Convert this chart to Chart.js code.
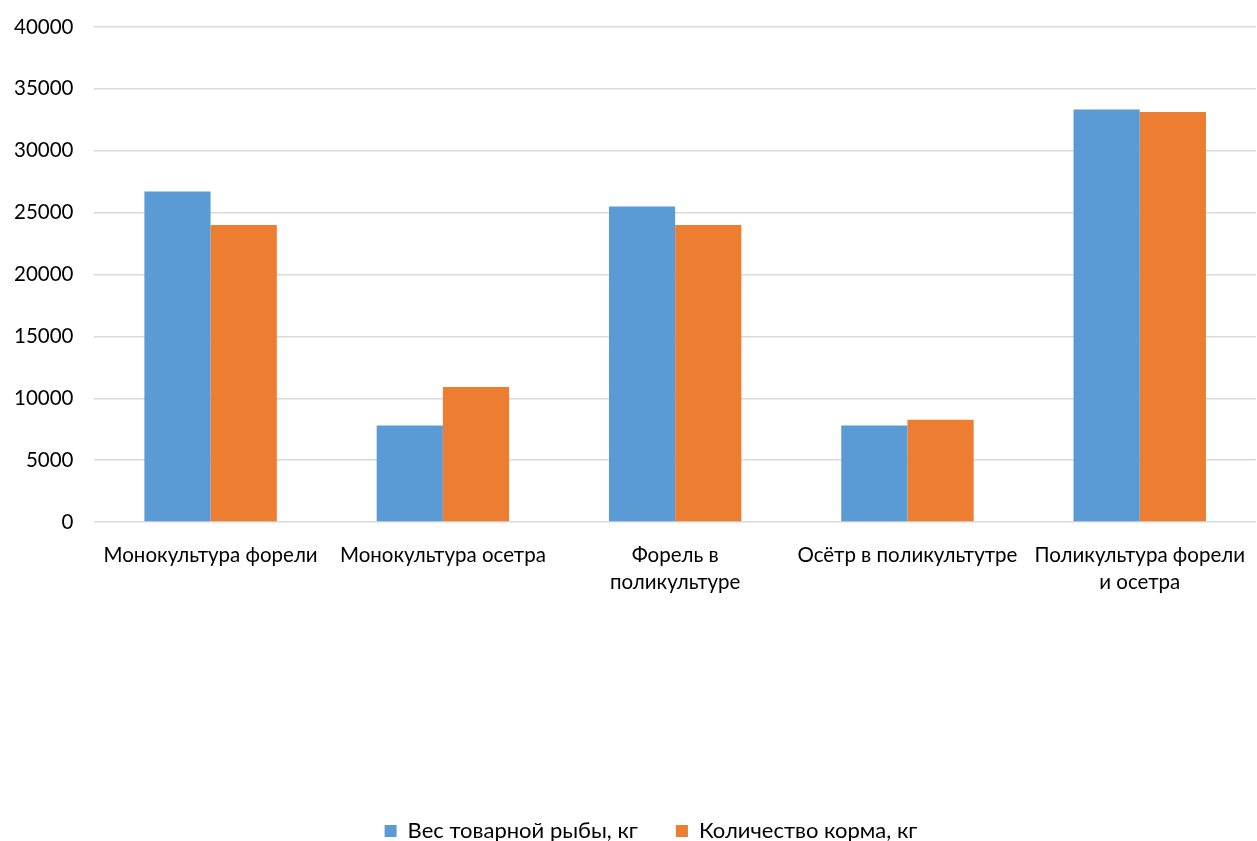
<!DOCTYPE html>
<html lang="ru">
<head>
<meta charset="utf-8">
<title>Вес рыбы и количество корма</title>
<script src="https://cdn.jsdelivr.net/npm/chart.js@4"></script>
<style>
  html, body { margin: 0; padding: 0; background: #fff; }
  #wrap { width: 1257px; height: 841px; position: relative; }
</style>
</head>
<body>
<div id="wrap"><canvas id="chart"></canvas></div>
<script>
const categories = [
  ["Монокультура форели"],
  ["Монокультура осетра"],
  ["Форель в", "поликультуре"],
  ["Осётр в поликультутре"],
  ["Поликультура форели", "и осетра"],
];
const fishWeight = [26700, 7800, 25500, 7800, 33330];
const feedAmount = [24000, 10900, 24000, 8260, 33140];
const seriesNames = ["Вес товарной рыбы, кг", "Количество корма, кг"];
const yTicks = [0, 5000, 10000, 15000, 20000, 25000, 30000, 35000, 40000];

const FONT = "Lato, 'Open Sans', 'Liberation Sans', sans-serif";

// legend in the original sits a bit right of centre
const legendShift = {
  id: "legendShift",
  afterLayout(chart) {
    chart.legend.left += 26;
    chart.legend.right += 26;
  },
};

new Chart(document.getElementById("chart"), {
  type: "bar",
  data: {
    labels: categories,
    datasets: [
      {
        label: seriesNames[0],
        data: fishWeight,
        backgroundColor: "#5b9bd5",
        categoryPercentage: 0.57,
        barPercentage: 1,
      },
      {
        label: seriesNames[1],
        data: feedAmount,
        backgroundColor: "#ed7d31",
        categoryPercentage: 0.57,
        barPercentage: 1,
      },
    ],
  },
  plugins: [legendShift],
  options: {
    responsive: true,
    maintainAspectRatio: false,
    animation: false,
    layout: { padding: { top: 27, right: 0, left: -7, bottom: -11 } },
    plugins: {
      tooltip: { enabled: false },
      legend: {
        position: "bottom",
        labels: {
          color: "#000",
          font: { family: FONT, size: 22 },
          boxWidth: 12,
          boxHeight: 12,
          padding: 38,
        },
      },
    },
    scales: {
      x: {
        grid: { display: false },
        border: { display: false },
        ticks: {
          color: "#000",
          font: { family: FONT, size: 20.5, lineHeight: 1.3 },
          maxRotation: 0,
          autoSkip: false,
          padding: 12,
        },
        afterFit: (scale) => { scale.height = 260; },
      },
      y: {
        min: 0,
        max: 40000,
        afterBuildTicks: (scale) => { scale.ticks = yTicks.map((v) => ({ value: v })); },
        afterFit: (scale) => { scale.paddingTop = 0; scale.paddingBottom = 0; },
        grid: { color: "#d9d9d9", lineWidth: 1.5, drawTicks: false },
        border: { display: false },
        ticks: {
          color: "#000",
          font: { family: FONT, size: 20.5 },
          padding: 21,
          callback: (v) => String(v),
        },
      },
    },
  },
});
</script>
</body>
</html>
